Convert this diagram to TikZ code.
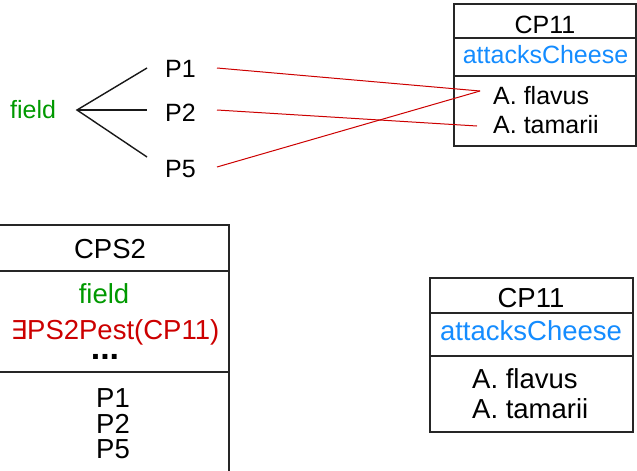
\documentclass[tikz,border=0pt]{standalone}
\usepackage{fontspec}
\setmainfont{Liberation Sans}
\newfontfamily\djv{DejaVu Sans}
\definecolor{fgreen}{RGB}{0,153,0}
\definecolor{fred}{RGB}{204,0,0}
\definecolor{fblue}{RGB}{20,140,255}
\begin{document}
\begin{tikzpicture}[x=1pt,y=-1pt,
  txt/.style={inner sep=0pt,font=\fontsize{25}{25}\selectfont,text height=0.72em,text depth=0pt},
  btxt/.style={inner sep=0pt,font=\fontsize{27.5}{27.5}\selectfont,text height=0.72em,text depth=0pt},
  boxline/.style={draw=black!85,line width=1.2pt},
  treeline/.style={draw=black!90,line width=1.4pt},
  redline/.style={draw=fred,line width=1pt}]
\useasboundingbox (0,0) rectangle (637,471);
% top-right box CP11
\draw[boxline] (454,4) rectangle (636,146);
\draw[boxline] (454,38) -- (636,38);
\draw[boxline] (454,76) -- (636,76);
\node[txt,anchor=base] (cpa) at (545,33) {CP11};
\node[txt,anchor=base,text=fblue] (aca) at (545.5,63) {attacksCheese};
\node[txt,anchor=base west] (fla) at (493,104) {A. flavus};
\node[txt,anchor=base west] (taa) at (493,133) {A. tamarii};
% bottom-right box CP11
\draw[boxline] (430,278) rectangle (633,432);
\draw[boxline] (430,313) -- (633,313);
\draw[boxline] (430,356) -- (633,356);
\node[btxt,anchor=base] (cpb) at (531,307) {CP11};
\node[btxt,anchor=base,text=fblue] (acb) at (531,340) {attacksCheese};
\node[btxt,anchor=base west] (flb) at (472,388) {A. flavus};
\node[btxt,anchor=base west] (tab) at (472,418) {A. tamarii};
% bottom-left box CPS2
\draw[boxline] (-9,225) rectangle (229,480);
\draw[boxline] (-9,271) -- (229,271);
\draw[boxline] (-9,372) -- (229,372);
\node[btxt,anchor=base] (cps) at (110,258) {CPS2};
\node[btxt,anchor=base,text=fgreen] (fdb) at (104,303) {field};
\node[btxt,anchor=base,text=fred] (ex) at (115,339) {{\djv\fontsize{26}{26}\selectfont ∃}PS2Pest(CP11)};
\node[inner sep=0pt,anchor=base,font=\fontsize{34}{34}\selectfont\bfseries,text height=5pt,text depth=0pt] (dots) at (105,359) {...};
\node[btxt,anchor=base] (pb1) at (113,407) {P1};
\node[btxt,anchor=base] (pb2) at (113,433) {P2};
\node[btxt,anchor=base] (pb5) at (113,458) {P5};
% top-left tree
\node[txt,anchor=base west,text=fgreen] (fd) at (10,118) {field};
\node[txt,anchor=base west] (p1) at (165,77) {P1};
\node[txt,anchor=base west] (p2) at (165,121) {P2};
\node[txt,anchor=base west] (p5) at (165,177) {P5};
\coordinate (apex) at (77,110);
\coordinate (t1) at (147,68);
\coordinate (t2) at (147,110);
\coordinate (t5) at (147,157);
\draw[treeline] (t1) -- (apex) -- (t5);
\draw[treeline] (apex) -- (t2);
% red connectors
\coordinate (fl) at (480,91);
\coordinate (ta) at (477,126);
\coordinate (s1) at (217,68);
\coordinate (s2) at (217,110);
\coordinate (s5) at (217,167);
\draw[redline] (s1) -- (fl);
\draw[redline] (s5) -- (fl);
\draw[redline] (s2) -- (ta);
\end{tikzpicture}
\end{document}
